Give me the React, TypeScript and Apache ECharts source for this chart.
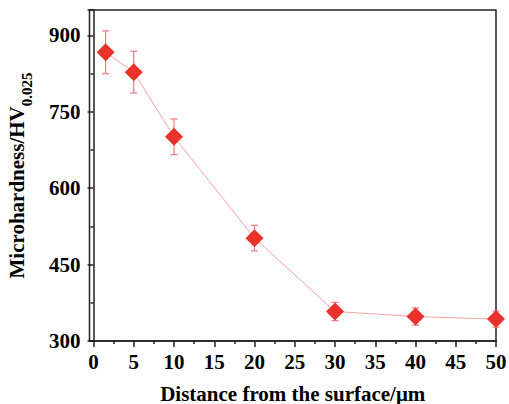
import React, { useEffect, useRef } from "react";
import * as echarts from "echarts";

const distances = [1.5, 5, 10, 20, 30, 40, 50];
const hardness = [867, 828, 701, 502, 358, 348, 343];
const errors = [42, 41, 35, 25, 18, 17, 16];
const xTickValues = [0, 5, 10, 15, 20, 25, 30, 35, 40, 45, 50];
const xMinorValues = [2.5, 7.5, 12.5, 17.5, 22.5, 27.5, 32.5, 37.5, 42.5, 47.5];

const FONT = "'Liberation Serif', 'Times New Roman', serif";

export default function App() {
  const ref = useRef<HTMLDivElement>(null);
  useEffect(() => {
    if (!ref.current) return;
    const chart = echarts.init(ref.current, undefined, { renderer: "svg" });
    const errData = distances.map((d, i) => [d, hardness[i] - errors[i], hardness[i] + errors[i]]);
    chart.setOption({
      animation: false,
      grid: {
        left: 89.5,
        right: 13,
        top: 10,
        bottom: 63,
        outerBoundsMode: "none",
        containLabel: false,
        show: true,
        borderColor: "#222",
        borderWidth: 1.5,
      },
      xAxis: [
        {
          type: "value",
          min: -0.5,
          max: 50,
          position: "bottom",
          name: "Distance from the surface/μm",
          nameLocation: "middle",
          nameGap: 42,
          nameTextStyle: { fontFamily: FONT, fontWeight: "bold", fontSize: 21, color: "#000" },
          axisLine: { show: true, onZero: false, lineStyle: { color: "#222", width: 1.5 } },
          axisTick: { show: true, customValues: xTickValues, length: 6, inside: false, lineStyle: { color: "#222", width: 1.5 } },
          axisLabel: { customValues: xTickValues, fontFamily: FONT, fontWeight: "bold", fontSize: 21, color: "#000", margin: 10 },
          splitLine: { show: false },
        },
        {
          type: "value",
          min: -0.5,
          max: 50,
          position: "bottom",
          gridIndex: 0,
          axisLine: { show: false, onZero: false },
          axisTick: { show: true, customValues: xMinorValues, length: 3, lineStyle: { color: "#222", width: 1.5 } },
          axisLabel: { show: false },
          splitLine: { show: false },
        },
      ],
      yAxis: {
        type: "value",
        min: 300,
        max: 950,
        interval: 150,
        name: "{a|Microhardness/HV}{b|0.025}",
        nameLocation: "middle",
        nameGap: 62,
        nameRotate: 90,
        nameTextStyle: {
          rich: {
            a: { fontFamily: FONT, fontWeight: "bold", fontSize: 21, color: "#000", verticalAlign: "bottom", lineHeight: 26 },
            b: { fontFamily: FONT, fontWeight: "bold", fontSize: 15, color: "#000", verticalAlign: "bottom", lineHeight: 26, padding: [0, 0, -7, 0] },
          },
        },
        axisLine: { show: true, lineStyle: { color: "#222", width: 1.5 } },
        axisTick: { show: true, length: 6, lineStyle: { color: "#222", width: 1.5 } },
        minorTick: { show: true, splitNumber: 2, length: 3, lineStyle: { color: "#222", width: 1.5 } },
        axisLabel: { fontFamily: FONT, fontWeight: "bold", fontSize: 21, color: "#000", margin: 9, showMaxLabel: false },
        splitLine: { show: false },
      },
      series: [
        {
          type: "custom",
          renderItem: (params: any, api: any) => {
            const x = api.value(0);
            const lo = api.coord([x, api.value(1)]);
            const hi = api.coord([x, api.value(2)]);
            const hw = 3.5;
            const style = { stroke: "#f07a7a", lineWidth: 1.2 };
            return {
              type: "group",
              children: [
                { type: "line", shape: { x1: lo[0], y1: lo[1], x2: hi[0], y2: hi[1] }, style },
                { type: "line", shape: { x1: lo[0] - hw, y1: lo[1], x2: lo[0] + hw, y2: lo[1] }, style },
                { type: "line", shape: { x1: hi[0] - hw, y1: hi[1], x2: hi[0] + hw, y2: hi[1] }, style },
              ],
            };
          },
          encode: { x: 0, y: [1, 2] },
          data: errData,
          z: 1,
        },
        {
          type: "line",
          data: distances.map((d, i) => [d, hardness[i]]),
          symbol: "diamond",
          symbolSize: 18,
          lineStyle: { color: "#f6a3a3", width: 1 },
          itemStyle: { color: "#e8322a" },
          z: 3,
        },
      ],
    });
    return () => chart.dispose();
  }, []);
  return <div ref={ref} style={{ width: 509, height: 404, position: "absolute", left: 0, top: 0 }} />;
}
